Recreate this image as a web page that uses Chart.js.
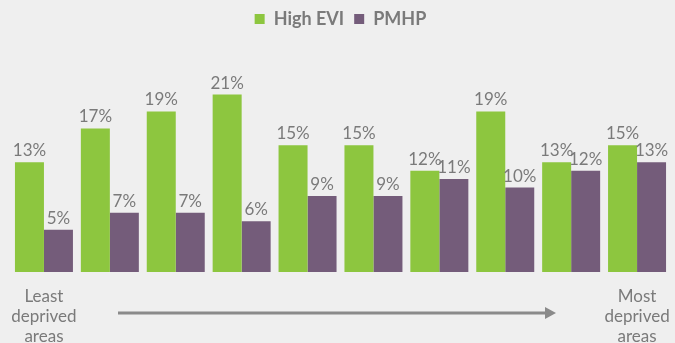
<!DOCTYPE html>
<html>
<head>
<meta charset="utf-8">
<script src="https://cdn.jsdelivr.net/npm/chart.js@4"></script>
<style>
  html, body { margin: 0; padding: 0; background: #efefef; }
  #wrap { width: 675px; height: 343px; }
</style>
</head>
<body>
<div id="wrap"><canvas id="chart" width="675" height="343"></canvas></div>
<script>
const groups = ["1", "2", "3", "4", "5", "6", "7", "8", "9", "10"];
const highEvi = [13, 17, 19, 21, 15, 15, 12, 19, 13, 15];
const pmhp = [5, 7, 7, 6, 9, 9, 11, 10, 12, 13];

const GREEN = "#8dc63f";
const PURPLE = "#745c7a";
const TEXT = "#7a7a7a";

// percentage labels above each bar
const valueLabels = {
  id: "valueLabels",
  afterDatasetsDraw(chart) {
    const ctx = chart.ctx;
    ctx.save();
    ctx.font = "17px Lato";
    ctx.fillStyle = TEXT;
    ctx.textAlign = "center";
    ctx.textBaseline = "bottom";
    chart.data.datasets.forEach((ds, i) => {
      chart.getDatasetMeta(i).data.forEach((bar, j) => {
        ctx.fillText(ds.data[j] + "%", bar.x, bar.y - 3);
      });
    });
    ctx.restore();
  }
};

// "least / most deprived" captions and the arrow between them
const deprivationAxis = {
  id: "deprivationAxis",
  afterDraw(chart) {
    const ctx = chart.ctx;
    const first = chart.getDatasetMeta(0).data[0];
    const last = chart.getDatasetMeta(1).data[groups.length - 1];
    const leftX = (first.x + chart.getDatasetMeta(1).data[0].x) / 2;
    const rightX = (chart.getDatasetMeta(0).data[groups.length - 1].x + last.x) / 2;
    ctx.save();
    ctx.font = "17px Lato";
    ctx.fillStyle = TEXT;
    ctx.textAlign = "center";
    ctx.textBaseline = "middle";
    ["Least", "deprived", "areas"].forEach((t, k) => ctx.fillText(t, leftX, 297 + k * 20));
    ["Most", "deprived", "areas"].forEach((t, k) => ctx.fillText(t, rightX, 297 + k * 20));

    ctx.strokeStyle = "#8a8a8a";
    ctx.fillStyle = "#8a8a8a";
    ctx.lineWidth = 3;
    ctx.beginPath();
    ctx.moveTo(118, 313);
    ctx.lineTo(548, 313);
    ctx.stroke();
    ctx.beginPath();
    ctx.moveTo(556, 313);
    ctx.lineTo(545, 307);
    ctx.lineTo(545, 319);
    ctx.closePath();
    ctx.fill();
    ctx.restore();
  }
};

new Chart(document.getElementById("chart"), {
  type: "bar",
  data: {
    labels: groups,
    datasets: [
      { label: "High EVI", data: highEvi, backgroundColor: GREEN },
      { label: "PMHP", data: pmhp, backgroundColor: PURPLE }
    ]
  },
  options: {
    responsive: false,
    animation: false,
    layout: { padding: { left: 11, right: 5, top: 0, bottom: 71 } },
    datasets: { bar: { categoryPercentage: 0.88, barPercentage: 1 } },
    scales: {
      x: { display: false },
      y: { display: false, min: 0, max: 27.7 }
    },
    plugins: {
      legend: {
        position: "top",
        labels: {
          boxWidth: 10,
          boxHeight: 10,
          padding: 10,
          color: TEXT,
          font: { family: "Lato", size: 18, weight: "bold" }
        }
      },
      tooltip: { enabled: false }
    }
  },
  plugins: [valueLabels, deprivationAxis]
});
</script>
</body>
</html>
